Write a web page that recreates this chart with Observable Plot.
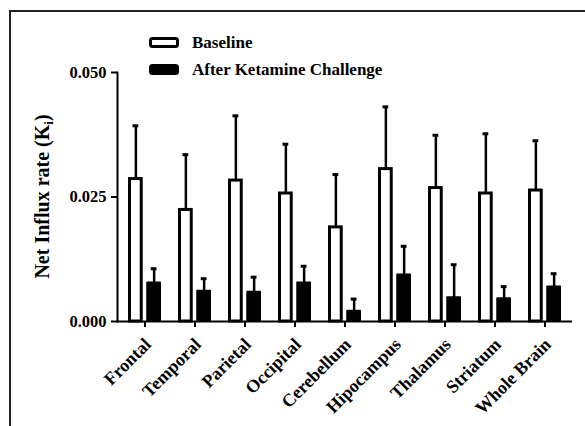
<!DOCTYPE html>
<html>
<head>
<meta charset="utf-8">
<script src="https://cdn.jsdelivr.net/npm/d3@7"></script>
<script src="https://cdn.jsdelivr.net/npm/@observablehq/plot@0.6"></script>
<style>
  html, body { margin: 0; padding: 0; background: #fff; }
  #wrap { position: relative; width: 585px; height: 426px; overflow: hidden; background: #fff; }
  #border { position: absolute; left: 9px; top: 10px; width: 600px; height: 500px;
            border-top: 2px solid #222; border-left: 2px solid #222; pointer-events: none; }
  #legend { position: absolute; left: 0; top: 0; }
</style>
</head>
<body>
<div id="wrap">
  <div id="chart"></div>
  <svg id="legend" width="420" height="90"></svg>
  <div id="border"></div>
</div>
<script>
const regions = ["Frontal", "Temporal", "Parietal", "Occipital", "Cerebellum", "Hipocampus", "Thalamus", "Striatum", "Whole Brain"];
const seriesNames = ["Baseline", "After Ketamine Challenge"];
const baselineMean = [0.0286, 0.0224, 0.0283, 0.0257, 0.0189, 0.0306, 0.0268, 0.0257, 0.0263];
const baselineSD   = [0.0107, 0.0111, 0.0130, 0.0099, 0.0106, 0.0125, 0.0106, 0.0120, 0.0100];
const ketamineMean = [0.0078, 0.0061, 0.0059, 0.0078, 0.0021, 0.0094, 0.0048, 0.0046, 0.0070];
const ketamineSD   = [0.0028, 0.0025, 0.0030, 0.0033, 0.0024, 0.0057, 0.0066, 0.0024, 0.0026];
const yTicks = [0, 0.025, 0.05];
const yLabel = "Net Influx rate (K";
const yLabelSub = "i";

const baseData = regions.map((r, i) => ({region: r, value: baselineMean[i], top: baselineMean[i] + baselineSD[i]}));
const ketData = regions.map((r, i) => ({region: r, value: ketamineMean[i], top: ketamineMean[i] + ketamineSD[i]}));

const W = 585, H = 426, mL = 117, mR = 13, mT = 72, mB = 105;
const pIn = 0.34, pOut = 0.19;
const step = (W - mL - mR) / (regions.length - pIn + 2 * pOut);
const bw = step * (1 - pIn);
const gap = 3.3;
const sw = (bw - gap) / 2;
const off = (bw - sw) / 2;
const capW = 6;
const font = "'Liberation Serif', 'Times New Roman', Times, serif";

const chart = Plot.plot({
  width: W, height: H,
  marginLeft: mL, marginRight: mR, marginTop: mT, marginBottom: mB,
  style: {fontFamily: font, fontWeight: "bold", fontSize: "16.5px", color: "#000", background: "#fff"},
  x: {domain: regions, paddingInner: pIn, paddingOuter: pOut},
  y: {domain: [0, 0.05]},
  marks: [
    Plot.barY(baseData, {x: "region", y: "value", fill: "#fff", stroke: "#000", strokeWidth: 3,
      insetLeft: 1.5, insetRight: bw - sw + 1.5}),
    Plot.barY(ketData, {x: "region", y: "value", fill: "#000", stroke: "#000", strokeWidth: 1.5, strokeLinejoin: "round",
      insetLeft: bw - sw + 0.75, insetRight: 0.75}),
    Plot.ruleX(baseData, {x: "region", y1: "value", y2: "top", dx: -off, stroke: "#000", strokeWidth: 2.5}),
    Plot.ruleX(ketData, {x: "region", y1: "value", y2: "top", dx: off, stroke: "#000", strokeWidth: 2.5}),
    Plot.tickY(baseData, {x: "region", y: "top", stroke: "#000", strokeWidth: 3,
      insetLeft: sw / 2 - capW / 2, insetRight: bw - sw / 2 - capW / 2}),
    Plot.tickY(ketData, {x: "region", y: "top", stroke: "#000", strokeWidth: 3,
      insetLeft: bw - sw / 2 - capW / 2, insetRight: sw / 2 - capW / 2}),
    Plot.axisY({ticks: yTicks, tickFormat: d3.format(".3f"), tickSize: 6, tickPadding: 5,
      strokeWidth: 2, fontSize: 16.5, label: null}),
    Plot.axisX({tickSize: 6, strokeWidth: 2, text: null, label: null}),
    Plot.axisX({tickSize: 0, tickPadding: 20, tickRotate: -45, dx: 3, fontSize: 18, label: null}),
    Plot.frame({anchor: "left", strokeWidth: 2}),
    Plot.ruleY([0], {strokeWidth: 2, stroke: "#000"})
  ]
});
document.getElementById("chart").appendChild(chart);

// y-axis title with subscript
const svg = d3.select(chart.tagName.toLowerCase() === "svg" ? chart : chart.querySelector("svg"));
const yScale = chart.scale("y");
const yMid = (yScale.apply(0) + yScale.apply(0.05)) / 2;
const t = svg.append("text")
  .attr("transform", `translate(49,${yMid}) rotate(-90)`)
  .attr("text-anchor", "middle")
  .attr("font-family", font).attr("font-weight", "bold").attr("font-size", 20)
  .attr("fill", "#000");
t.append("tspan").text(yLabel);
t.append("tspan").attr("font-size", 13).attr("dy", 4).text(yLabelSub);
t.append("tspan").attr("dy", -4).text(")");

// legend
const lg = d3.select("#legend");
const items = [
  {name: seriesNames[0], fill: "#fff", y: 37},
  {name: seriesNames[1], fill: "#000", y: 64}
];
items.forEach(it => {
  lg.append("rect").attr("x", 150.5).attr("y", it.y + 1.5).attr("width", 27).attr("height", 8)
    .attr("rx", 2).attr("fill", it.fill).attr("stroke", "#000").attr("stroke-width", 3);
  lg.append("text").attr("x", 192).attr("y", it.y + 11)
    .attr("font-family", font).attr("font-weight", "bold").attr("font-size", 17)
    .attr("fill", "#000").text(it.name);
});
</script>
</body>
</html>
